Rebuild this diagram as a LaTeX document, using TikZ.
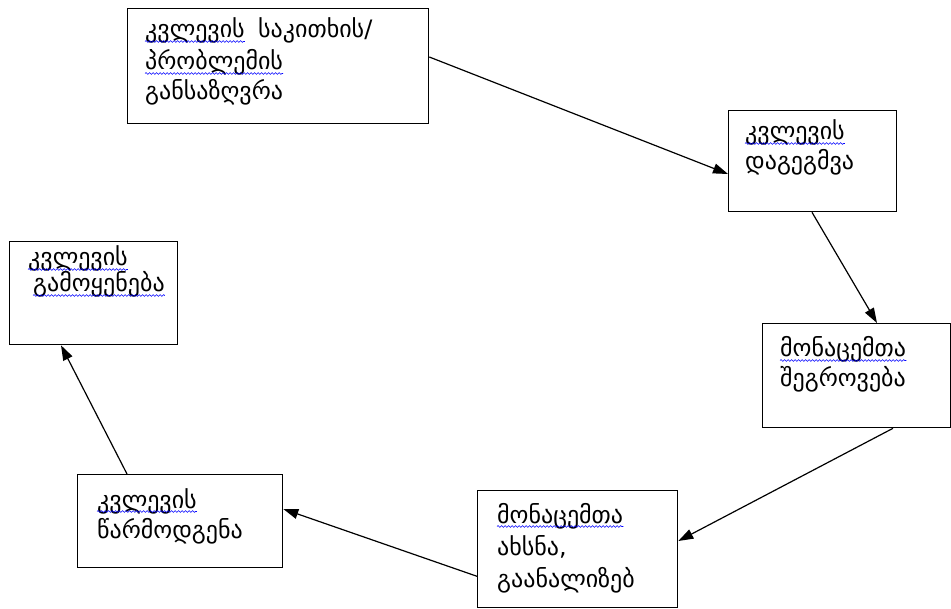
\documentclass[tikz,border=0pt]{standalone}
\usepackage{fontspec}
\newfontfamily\geo{DejaVu Sans}
\usetikzlibrary{arrows.meta,calc,decorations.pathmorphing}
\tikzset{
  box/.style={draw, line width=1.3pt, anchor=north west, inner sep=0pt, minimum width=#1},
  txt/.style={anchor=base west, inner sep=0pt, font=\geo\fontsize{24}{28}\selectfont},
  arr/.style={line width=1.2pt, -{Triangle[length=15pt,width=10pt]}},
  wave/.style={blue, line width=0.6pt, decorate, decoration={snake, amplitude=0.9pt, segment length=3.5pt}}
}
\begin{document}
\begin{tikzpicture}[x=1pt,y=-1pt]
\useasboundingbox (0,0) rectangle (951,609);
% boxes
\node[box=301pt, minimum height=115pt] (b1) at (127,8) {};
\node[box=168pt, minimum height=101pt] (b2) at (728,110) {};
\node[box=188pt, minimum height=104pt] (b3) at (762,323) {};
\node[box=200pt, minimum height=117pt] (b4) at (477,490) {};
\node[box=205pt, minimum height=93pt] (b5) at (77,474) {};
\node[box=168pt, minimum height=103pt] (b6) at (9,241) {};
% texts
\node[txt] (t1a) at (145,38) {კვლევის};
\node[txt] (t1b) at ($(t1a.base east)+(13,0)$) {საკითხის/};
\node[txt] (t1c) at (145,70) {პრობლემის};
\node[txt] (t1d) at (145,100) {განსაზღვრა};
\node[txt] (t2a) at (745,140) {კვლევის};
\node[txt] (t2b) at (745,170) {დაგეგმვა};
\node[txt] (t3a) at (780,357) {მონაცემთა};
\node[txt] (t3b) at (780,387) {შეგროვება};
\node[txt] (t4a) at (497,523) {მონაცემთა};
\node[txt] (t4b) at (497,555) {ახსნა,};
\node[txt] (t4c) at (497,587) {გაანალიზებ};
\node[txt] (t5a) at (97,508) {კვლევის};
\node[txt] (t5b) at (97,538) {წარმოდგენა};
\node[txt] (t6a) at (28,266) {კვლევის};
\node[txt] (t6b) at (33,292) {გამოყენება};
% spell-check underlines
\foreach \n in {t1a,t1c,t2a,t3a,t4a,t5a,t6a,t6b}
  \draw[wave] ([yshift=-3.5pt]\n.base west) -- ([yshift=-3.5pt]\n.base east);
% connectors
\draw[arr] ($(b1.north east)+(0,49)$) -- ($(b2.north west)+(0,64)$);
\draw[arr] ($(b2.south west)+(84,0)$) -- ($(b3.north west)+(115,0)$);
\draw[arr] ($(b3.south west)+(131,0)$) -- ($(b4.north east)+(0,51)$);
\draw[arr] ($(b4.south west)+(0,-32)$) -- ($(b5.north east)+(0,35)$);
\draw[arr] ($(b5.north west)+(50,0)$) -- ($(b6.south west)+(52,0)$);
\end{tikzpicture}
\end{document}
